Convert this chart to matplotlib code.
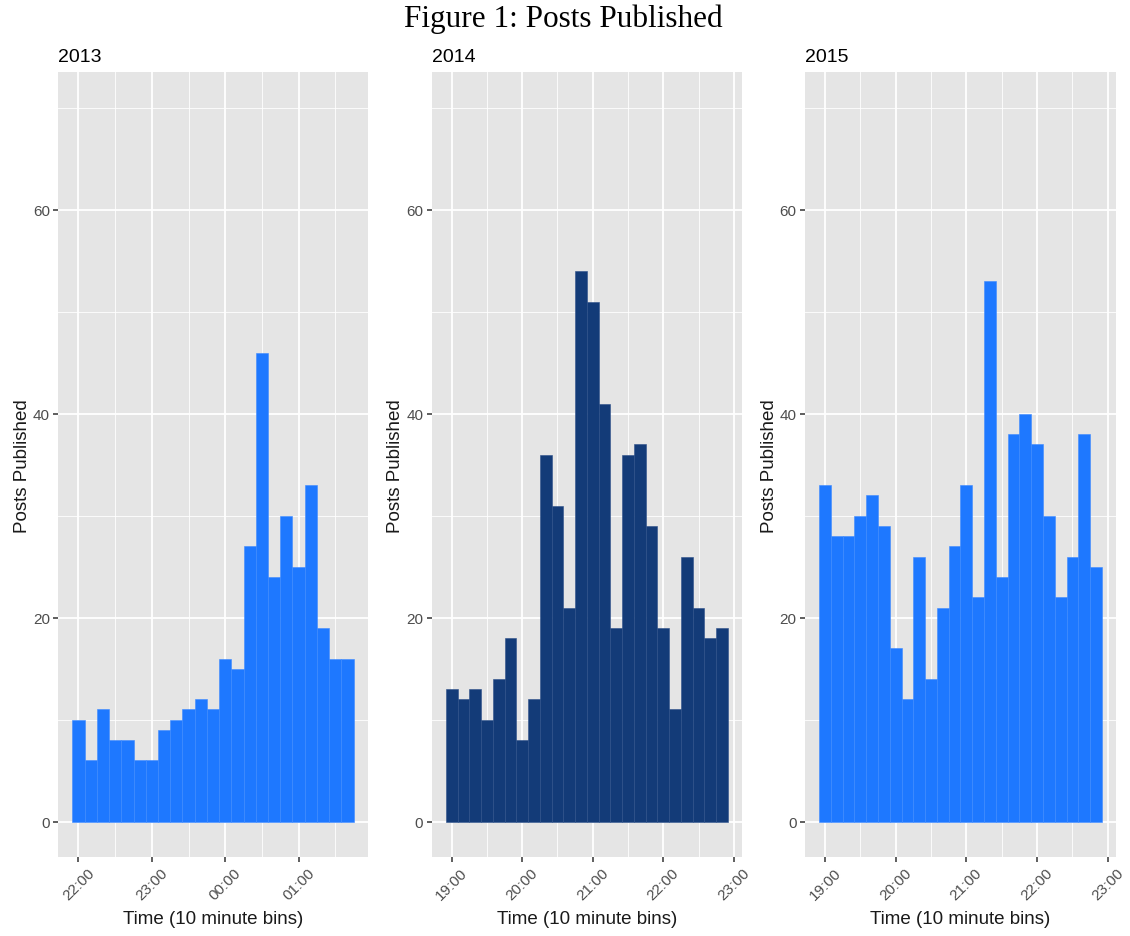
import matplotlib
matplotlib.use("Agg")
import matplotlib.pyplot as plt
import matplotlib.dates as mdates
import pandas as pd

# ---- data ----
years = ["2013", "2014", "2015"]
first_bins = ["2013-01-01 22:00", "2014-01-01 19:00", "2015-01-01 19:00"]
counts_2013 = [10, 6, 11, 8, 8, 6, 6, 9, 10, 11, 12, 11, 16, 15, 27, 46, 24, 30, 25, 33, 19, 16, 16]
counts_2014 = [13, 12, 13, 10, 14, 18, 8, 12, 36, 31, 21, 54, 51, 41, 19, 36, 37, 29, 19, 11, 26, 21, 18, 19]
counts_2015 = [33, 28, 28, 30, 32, 29, 17, 12, 26, 14, 21, 27, 33, 22, 53, 24, 38, 40, 37, 30, 22, 26, 38, 25]
all_counts = [counts_2013, counts_2014, counts_2015]
bar_colors = ["#1E78FF", "#133B78", "#1E78FF"]
edge_colors = ["#3D8AFF", "#2C5089", "#3D8AFF"]

title = "Figure 1: Posts Published"
xlabel = "Time (10 minute bins)"
ylabel = "Posts Published"

W, H = 1130, 937
fig = plt.figure(figsize=(W / 100, H / 100), dpi=100)
fig.patch.set_facecolor("white")

# panel pixel boxes: left, right, top, bottom
boxes = [(58.3, 367.7, 73.3, 858.3), (431.7, 742.0, 73.3, 858.3), (805.0, 1116.0, 73.3, 858.3)]

sans = "Liberation Sans"
bin_w = pd.Timedelta(minutes=10)

for i, (yr, start, counts) in enumerate(zip(years, first_bins, all_counts)):
    l, r, t, b = boxes[i]
    ax = fig.add_axes([l / W, 1 - b / H, (r - l) / W, (b - t) / H])
    ax.set_facecolor("#E5E5E5")
    centers = pd.date_range(start=start, periods=len(counts), freq="10min")
    xc = mdates.date2num(centers.to_pydatetime())
    wd = bin_w / pd.Timedelta(days=1)
    ax.bar(xc, counts, width=wd, color=bar_colors[i], edgecolor=edge_colors[i],
           linewidth=0.4, zorder=3)
    # x limits with 5% expansion
    lo = xc[0] - wd / 2
    hi = xc[-1] + wd / 2
    pad = (hi - lo) * 0.05
    ax.set_xlim(lo - pad, hi + pad)
    ax.set_ylim(-3.5, 73.5)
    ax.xaxis.set_major_locator(mdates.HourLocator())
    ax.xaxis.set_major_formatter(mdates.DateFormatter("%H:%M"))
    ax.xaxis.set_minor_locator(mdates.MinuteLocator(byminute=[30]))
    ax.set_yticks([0, 20, 40, 60])
    ax.set_yticks([10, 30, 50, 70], minor=True)
    ax.grid(True, which="major", color="white", linewidth=1.3, zorder=0)
    ax.grid(True, which="minor", color="white", linewidth=0.6, zorder=0)
    ax.set_axisbelow(True)
    for s in ax.spines.values():
        s.set_visible(False)
    ax.tick_params(which="major", length=3.5, width=1.1, color="#333333",
                   labelcolor="#4D4D4D", labelsize=11, pad=2.5)
    ax.tick_params(which="minor", length=0)
    for lab in ax.get_xticklabels():
        lab.set_rotation(45)
        lab.set_ha("center")
        lab.set_va("top")
        lab.set_fontfamily(sans)
    for lab in ax.get_yticklabels():
        lab.set_fontfamily(sans)
    # panel title
    fig.text(l / W, 1 - 62 / H, yr, ha="left", va="baseline", fontsize=14,
             family=sans, color="black")
    # axis titles
    fig.text((l + r) / 2 / W, 1 - 920 / H, xlabel, ha="center", va="center",
             fontsize=13.5, family=sans, color="#1A1A1A")
    fig.text((l - 36) / W, 1 - (t + b) / 2 / H, ylabel, ha="center", va="center",
             rotation=90, fontsize=13.5, family=sans, color="#1A1A1A")

fig.text(563.5 / W, 1 - 27 / H, title, ha="center", va="baseline", fontsize=22.5,
         family="Liberation Serif", color="black")

fig.savefig("out.png", dpi=100)
